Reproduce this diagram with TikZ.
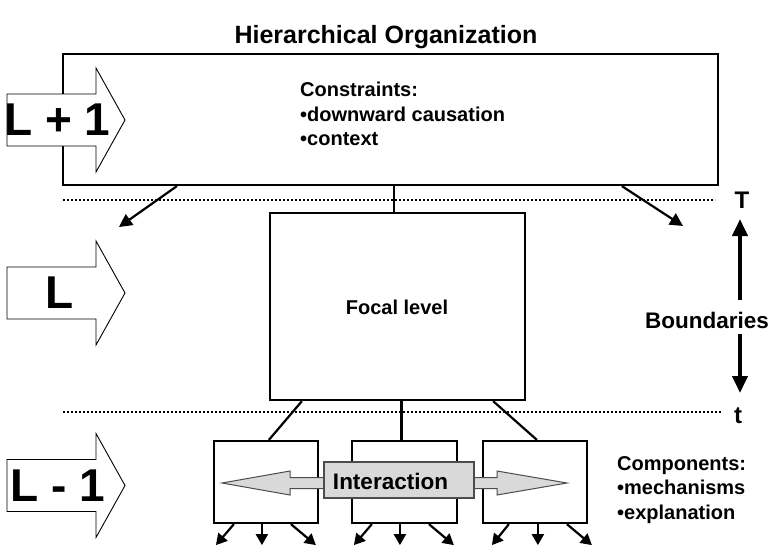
\documentclass[tikz,border=0pt]{standalone}
\usepackage{fontspec}
\setmainfont{Liberation Sans}
\usetikzlibrary{arrows.meta,calc}
\begin{document}
\begin{tikzpicture}[x=1pt,y=-1pt,
  box/.style={draw, line width=2.2pt, inner sep=0pt, fill=white},
  conn/.style={line width=2.2pt},
  carrow/.style={line width=2.2pt, -{Triangle[length=13pt,width=13pt]}},
  sarrow/.style={line width=2.2pt, -{Triangle[length=11pt,width=12pt]}},
  barrow/.style={line width=4pt, -{Triangle[length=17pt,width=15pt]}},
  dots/.style={line width=1.6pt, dash pattern=on 1.6pt off 2.4pt},
  levelarrow/.style={draw, fill=white, line width=0.9pt, line join=miter},
  garrow/.style={draw=black!70, fill=black!15, line width=1pt, line join=miter},
  txt/.style={font=\fontsize{20}{24.5}\selectfont\bfseries, inner sep=0pt},
  big/.style={font=\fontsize{46}{50}\selectfont\bfseries, inner sep=0pt}
]
\useasboundingbox (0,0) rectangle (776,547);

% title
\node[font=\fontsize{25}{30}\selectfont\bfseries, anchor=base, inner sep=0pt] (title) at (386,43) {Hierarchical Organization};

% boxes
\node[box, minimum width=655pt, minimum height=131pt] (top) at (390.5,119.5) {};
\node[box, minimum width=255pt, minimum height=187pt] (focal) at (397.5,306.5) {};
\node[txt] (focaltxt) at (397,307) {Focal level};
\node[box, minimum width=104pt, minimum height=82pt] (cl) at (266,482) {};
\node[box, minimum width=105pt, minimum height=82pt] (cm) at (404.5,482) {};
\node[box, minimum width=104pt, minimum height=82pt] (cr) at (535,482) {};

% dotted boundaries
\draw[dots] (63,200) -- (715,200);
\draw[dots] (63,412) -- (722,412);

% connectors top -> focal level
\draw[conn] ([xshift=-3.5pt]focal.north) -- ([xshift=-3.5pt]focal.north |- top.south);
\coordinate (tl) at (119,227);
\coordinate (tr) at (683,226);
\draw[carrow] ([xshift=115pt]top.south west) -- (tl);
\draw[carrow] ([xshift=560pt]top.south west) -- (tr);

% focal -> components
\draw[conn] ([xshift=33pt]focal.south west) -- ([xshift=56pt]cl.north west);
\draw[conn] ([xshift=4pt]focal.south) -- ([xshift=4pt]focal.south |- cm.north);
\draw[conn] ([xshift=-33pt]focal.south east) -- ([xshift=55pt]cr.north west);

% outgoing arrows below components
\foreach \b/\a/\c/\d/\e/\f in {cl/21/3/49/78/103, cm/21/3/49/78/103, cr/27/10/56/85/110} {
  \draw[sarrow] ([xshift=\a pt]\b.south west) -- ([xshift=\c pt, yshift=-21pt]\b.south west);
  \draw[sarrow] ([xshift=\d pt]\b.south west) -- ([xshift=\d pt, yshift=-21pt]\b.south west);
  \draw[sarrow] ([xshift=\e pt]\b.south west) -- ([xshift=\f pt, yshift=-21pt]\b.south west);
}

% level arrows
\foreach \cy in {120, 293, 485.5} {
  \draw[levelarrow, shift={(7,\cy)}] (0,-26) -- (89,-26) -- (89,-52) -- (118,0) -- (89,52) -- (89,26) -- (0,26) -- cycle;
}
\node[big] (lp1) at (57.5,120) {L + 1};
\node[big] (l0) at (60,293) {L};
\node[big] (lm1) at (57.5,486) {L - 1};

% interaction
\coordinate (P) at (324,483);
\coordinate (Q) at (474,483);
\draw[garrow, shift={(P)}] (1,-5.5) -- (-34,-5.5) -- (-34,-12) -- (-102,0) -- (-34,12) -- (-34,5.5) -- (1,5.5);
\draw[garrow, shift={(Q)}] (-1,-5.5) -- (23,-5.5) -- (23,-12) -- (93,0) -- (23,12) -- (23,5.5) -- (-1,5.5);
\node[draw=black!70, fill=black!15, line width=1.3pt, minimum width=150pt, minimum height=36pt, inner sep=0pt] (inter) at (399,480) {};
\node[font=\fontsize{22.5}{26}\selectfont\bfseries, inner sep=0pt] (intertxt) at (390.5,481) {Interaction};

% texts
\node[txt, anchor=west, align=left] (constr) at (300,114) {Constraints:\\•downward causation\\•context};
\node[txt, anchor=west, align=left] (comps) at (617,490) {Components:\\•mechanisms\\•explanation};

% boundaries
\node[font=\fontsize{24}{28}\selectfont\bfseries, inner sep=0pt] (T) at (742,200) {T};
\node[font=\fontsize{24}{28}\selectfont\bfseries, inner sep=0pt] (t) at (738,416) {t};
\node[font=\fontsize{22.5}{26}\selectfont\bfseries, inner sep=0pt] (bnd) at (707,320) {Boundaries};
\coordinate (bu1) at (740,300);
\coordinate (bu2) at (740,219);
\coordinate (bd1) at (740,334);
\coordinate (bd2) at (740,393);
\draw[barrow] (bu1) -- (bu2);
\draw[barrow] (bd1) -- (bd2);
\end{tikzpicture}
\end{document}
